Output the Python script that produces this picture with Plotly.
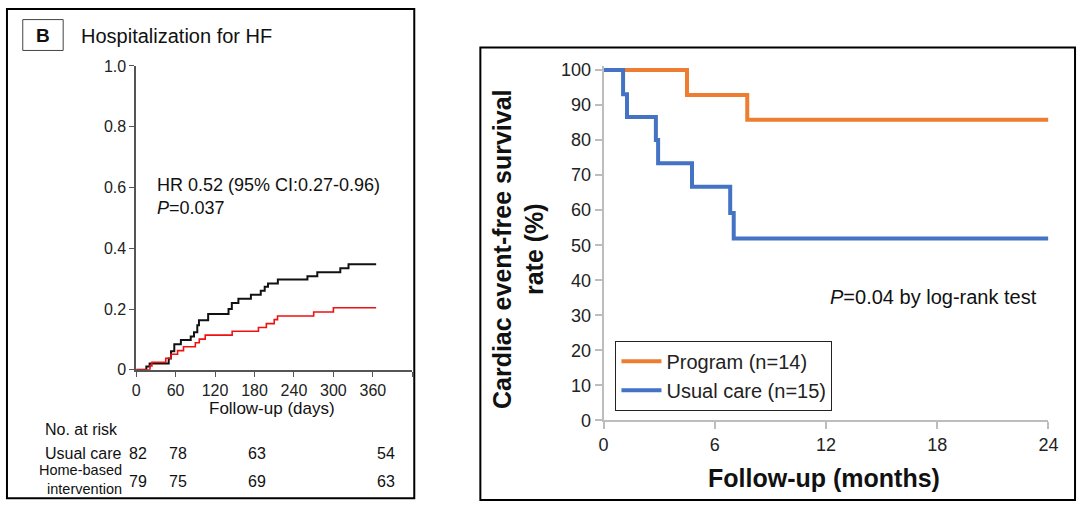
import plotly.graph_objects as go

W, H = 1087, 512

# ---------------- Panel B (left): cumulative incidence of HF hospitalization ----------------
uc_days = [0, 15.5, 20.5, 49.5, 53, 58, 68, 83, 88, 93, 95.5, 109.5, 140.5, 145.5, 155.5,
           174.5, 189.5, 195.5, 200.5, 215.5, 260.5, 275.5, 310.5, 323, 365]
uc_inc = [0, 0.011, 0.021, 0.037, 0.061, 0.084, 0.098, 0.110, 0.124, 0.147, 0.163, 0.184,
          0.200, 0.220, 0.234, 0.247, 0.260, 0.273, 0.284, 0.297, 0.308, 0.321, 0.334, 0.347, 0.347]

hb_days = [0, 21, 24, 45, 53, 63, 72, 90, 96, 105, 146, 186, 198, 210, 215, 270, 300, 365]
hb_inc = [0, 0.013, 0.025, 0.038, 0.051, 0.063, 0.076, 0.089, 0.101, 0.114, 0.127, 0.139,
          0.152, 0.165, 0.177, 0.190, 0.204, 0.204]

left_xticks = [0, 60, 120, 180, 240, 300, 360, 420]
left_xticklabels = ["0", "60", "120", "180", "240", "300", "360", ""]
left_yticks = [0, 0.2, 0.4, 0.6, 0.8, 1.0]
left_yticklabels = ["0", "0.2", "0.4", "0.6", "0.8", "1.0"]

risk_days = [0, 60, 180, 360]
risk_usual = [82, 78, 63, 54]
risk_home = [79, 75, 69, 63]

# ---------------- Right panel: cardiac event-free survival ----------------
prog_t = [0, 4.5, 7.75, 24]
prog_s = [100, 92.9, 85.8, 85.8]
usual_t = [0, 1.05, 1.26, 2.82, 2.94, 4.77, 6.83, 7.02, 24]
usual_s = [100, 93.1, 86.6, 80.0, 73.4, 66.7, 59.2, 51.9, 51.9]

right_xticks = [0, 6, 12, 18, 24]
right_yticks = list(range(0, 101, 10))

FONT = "Arial, Liberation Sans, sans-serif"


def px(x):
    return x / W


def py(y):
    return 1 - y / H


fig = go.Figure()

# left panel traces
fig.add_trace(go.Scatter(x=uc_days, y=uc_inc, mode="lines", line=dict(color="#111111", width=2, shape="hv"),
                         name="Usual care", showlegend=False, xaxis="x", yaxis="y"))
fig.add_trace(go.Scatter(x=hb_days, y=hb_inc, mode="lines", line=dict(color="#ee1111", width=1.6, shape="hv"),
                         name="Home-based intervention", showlegend=False, xaxis="x", yaxis="y"))

# right panel traces
fig.add_trace(go.Scatter(x=prog_t, y=prog_s, mode="lines", line=dict(color="#ED7D31", width=4, shape="hv"),
                         name="Program (n=14)", xaxis="x2", yaxis="y2"))
fig.add_trace(go.Scatter(x=usual_t, y=usual_s, mode="lines", line=dict(color="#4472C4", width=4, shape="hv"),
                         name="Usual care (n=15)", xaxis="x2", yaxis="y2"))

left_axis_color = "#555555"
right_axis_color = "#bdbdbd"

fig.update_layout(
    width=W, height=H,
    margin=dict(l=0, r=0, t=0, b=0),
    paper_bgcolor="white", plot_bgcolor="white",
    font=dict(family=FONT, color="#222222"),
    xaxis=dict(domain=[px(133), px(413)], range=[0, 420], tickvals=left_xticks, ticktext=left_xticklabels,
               showline=True, linecolor=left_axis_color, linewidth=1.5, ticks="outside", ticklen=5,
               tickcolor=left_axis_color, showgrid=False, zeroline=False, anchor="y",
               tickfont=dict(size=16, color="#222222")),
    yaxis=dict(domain=[py(375), py(60)], range=[0, 1], tickvals=left_yticks, ticktext=left_yticklabels,
               showline=True, linecolor=left_axis_color, linewidth=1.5, ticks="outside", ticklen=5,
               tickcolor=left_axis_color, showgrid=False, zeroline=False, anchor="x",
               tickfont=dict(size=16, color="#222222")),
    xaxis2=dict(domain=[px(607), px(1058)], range=[0, 24], tickvals=right_xticks,
                showline=True, linecolor=right_axis_color, linewidth=2, ticks="outside", ticklen=7,
                tickcolor=right_axis_color, tickwidth=1.5, showgrid=False, zeroline=False, anchor="y2",
                tickfont=dict(size=18, color="#222222")),
    yaxis2=dict(domain=[py(427.5), py(59.9)], range=[0, 101.2], tickvals=right_yticks,
                showline=True, linecolor=right_axis_color, linewidth=2, ticks="outside", ticklen=7,
                tickcolor=right_axis_color, tickwidth=1.5, showgrid=False, zeroline=False, anchor="x2",
                tickfont=dict(size=18, color="#222222")),
    legend=dict(x=px(619), y=py(345), xanchor="left", yanchor="top",
                bordercolor="#222222", borderwidth=1, bgcolor="white",
                font=dict(size=20, color="#222222"), tracegroupgap=0, itemwidth=40),
)

shapes = [
    # left panel frame
    dict(type="rect", xref="paper", yref="paper", x0=px(2), x1=px(415), y0=py(508), y1=py(1),
         line=dict(color="black", width=2)),
    # "B" label box
    dict(type="rect", xref="paper", yref="paper", x0=px(18), x1=px(59), y0=py(44), y1=py(12),
         line=dict(color="#444444", width=1)),
    # right panel frame
    dict(type="rect", xref="paper", yref="paper", x0=px(482), x1=px(1085), y0=py(510), y1=py(41),
         line=dict(color="black", width=2)),
]
fig.update_layout(shapes=shapes)

TXT = "#111111"
ann = []
ann.append(dict(text="<b>B</b>", x=px(38.5), y=py(28), xref="paper", yref="paper", showarrow=False,
                font=dict(size=19, color=TXT), xanchor="center", yanchor="middle"))
ann.append(dict(text="Hospitalization for HF", x=px(75), y=py(29), xref="paper", yref="paper", showarrow=False,
                font=dict(size=20, color=TXT), xanchor="left", yanchor="middle"))
ann.append(dict(text="HR 0.52 (95% CI:0.27-0.96)<br><i>P</i>=0.037", x=28, y=py(195), xref="x", yref="paper",
                showarrow=False, align="left",
                font=dict(size=18, color=TXT), xanchor="left", yanchor="middle"))
ann.append(dict(text="Follow-up (days)", x=px(271), y=py(415), xref="paper", yref="paper", showarrow=False,
                font=dict(size=17, color=TXT), xanchor="center", yanchor="middle"))
ann.append(dict(text="No. at risk", x=px(117), y=py(437), xref="paper", yref="paper", showarrow=False,
                font=dict(size=16, color=TXT), xanchor="right", yanchor="middle"))
ann.append(dict(text="Usual care", x=px(121), y=py(462), xref="paper", yref="paper", showarrow=False,
                font=dict(size=16, color=TXT), xanchor="right", yanchor="middle"))
ann.append(dict(text="Home-based<br>intervention", x=px(121), y=py(489), xref="paper", yref="paper",
                showarrow=False, align="right", font=dict(size=14.5, color=TXT),
                xanchor="right", yanchor="middle"))
for d, u, h in zip(risk_days, risk_usual, risk_home):
    shift = 13 if d == 360 else 2
    ann.append(dict(text=str(u), x=d, y=py(462), xref="x", yref="paper", xshift=shift, showarrow=False,
                    font=dict(size=16, color=TXT), xanchor="center", yanchor="middle"))
    ann.append(dict(text=str(h), x=d, y=py(491), xref="x", yref="paper", xshift=shift, showarrow=False,
                    font=dict(size=16, color=TXT), xanchor="center", yanchor="middle"))

# right panel texts
ann.append(dict(text="<i>P</i>=0.04 by log-rank test", x=12.1, y=35.1, xref="x2", yref="y2", showarrow=False,
                font=dict(size=20, color=TXT), xanchor="left", yanchor="middle"))
ann.append(dict(text="<b>Cardiac event-free survival<br>rate (%)</b>", x=px(520), y=py(250),
                xref="paper", yref="paper", showarrow=False, textangle=-90,
                font=dict(size=25, color=TXT), xanchor="center", yanchor="middle"))
ann.append(dict(text="<b>Follow-up (months)</b>", x=px(830), y=py(487), xref="paper", yref="paper",
                showarrow=False, font=dict(size=25, color=TXT), xanchor="center", yanchor="middle"))

fig.update_layout(annotations=ann)

fig.write_html(
    "out.html",
    config={"displayModeBar": False},
    post_script="document.documentElement.style.margin='0';document.body.style.margin='0';"
                "document.body.style.padding='0';document.body.style.overflow='hidden';",
)
